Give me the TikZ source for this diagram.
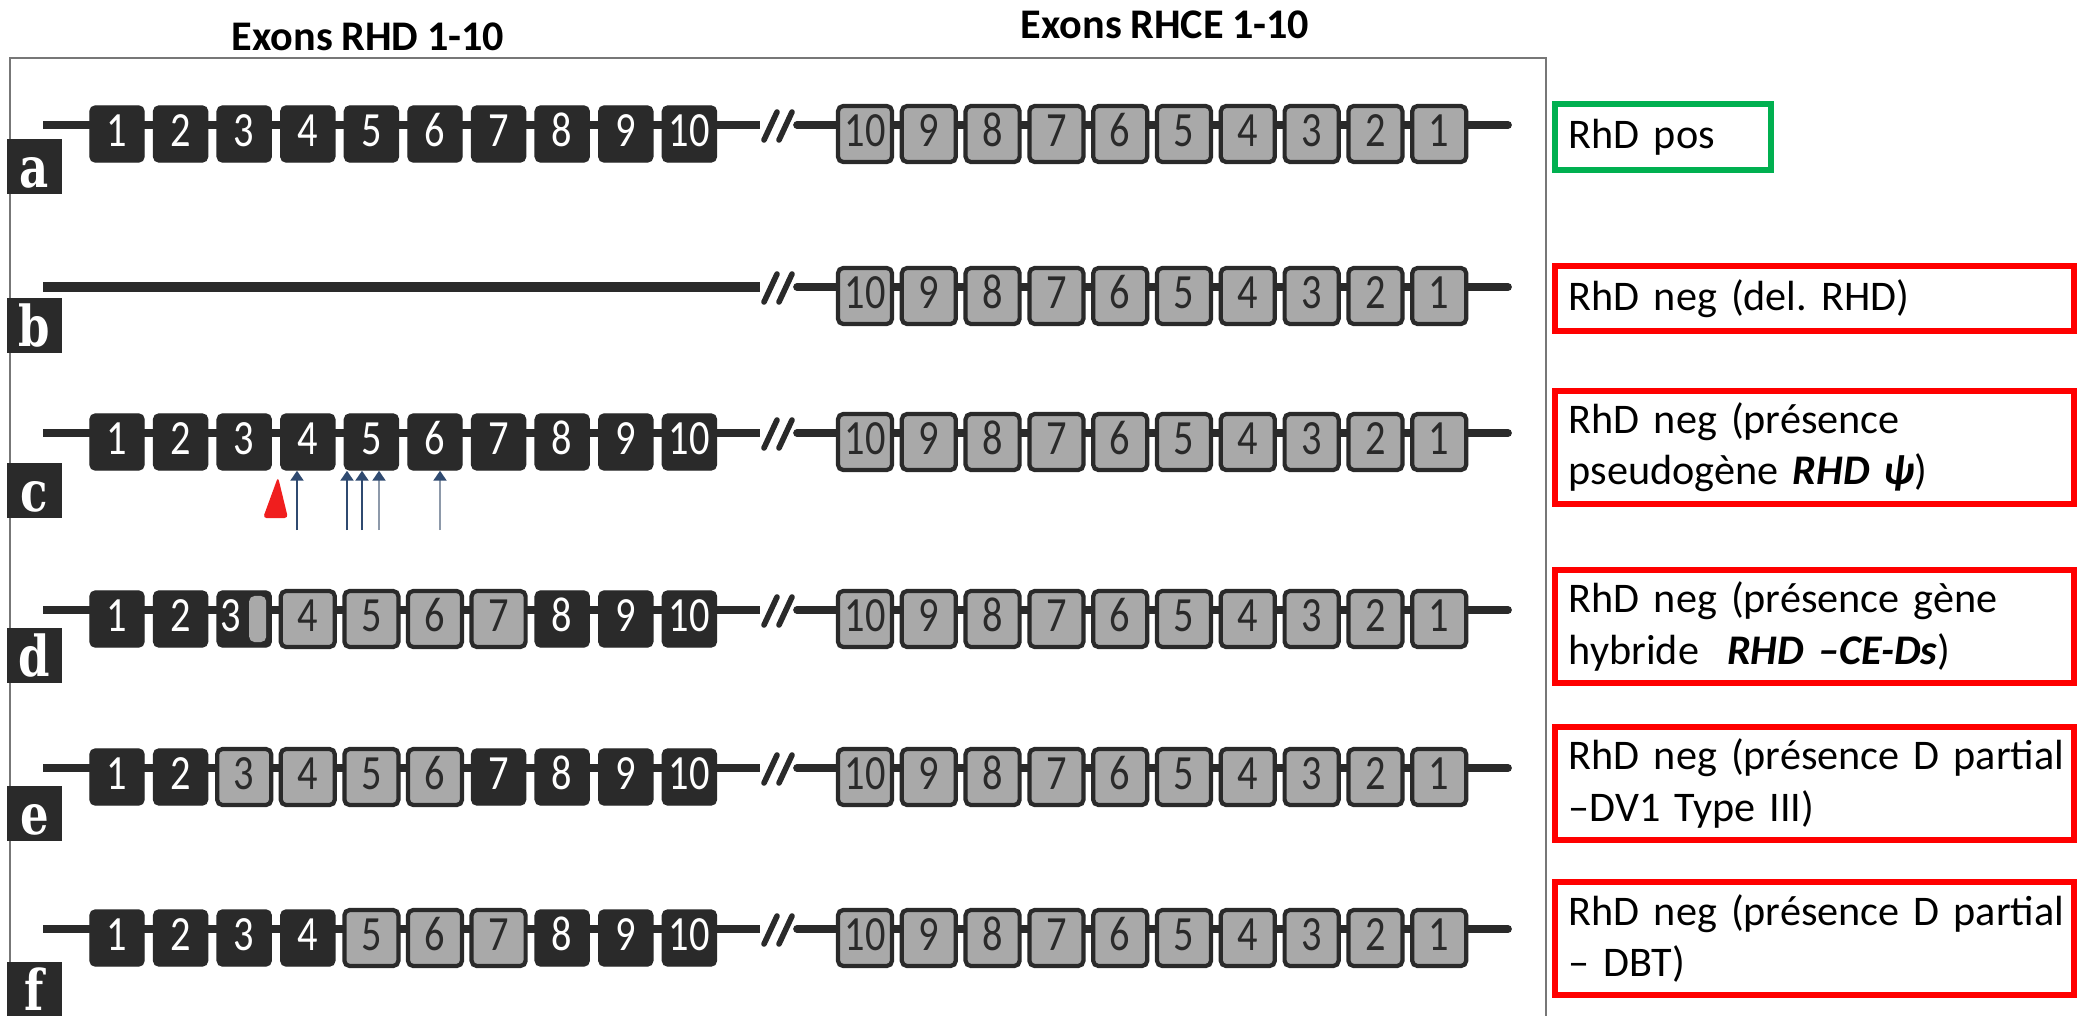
\documentclass[tikz,border=0pt]{standalone}
\usepackage{fontspec}
\setmainfont{Carlito}[WordSpace=0.9]
\newfontfamily\exfont[FakeStretch=0.82]{Carlito}
\newfontfamily\tagfont[FakeStretch=0.8]{DejaVu Serif}
\usetikzlibrary{arrows.meta,positioning,calc}
\frenchspacing
\hyphenpenalty=10000

\definecolor{exdark}{HTML}{2A2A2A}
\definecolor{exgrey}{HTML}{A9A9A9}
\definecolor{frameg}{HTML}{777777}
\definecolor{posgreen}{HTML}{00B050}
\definecolor{negred}{HTML}{FF0000}
\definecolor{mutblue}{HTML}{2F4A70}
\definecolor{mutgrey}{HTML}{8D99AA}
\definecolor{trired}{HTML}{F01E1E}

\begin{document}
\begin{tikzpicture}[x=0.01cm, y=-0.01cm,
  ex/.style={rounded corners=1.5pt, minimum width=0.54cm, minimum height=0.56cm,
             inner sep=0pt, text height=11.4pt, text depth=4.5pt,
             font=\exfont\fontsize{14}{14}\selectfont},
  dex/.style={ex, fill=exdark, draw=exdark, text=white},
  gex/.style={ex, fill=exgrey, draw=exdark, line width=1.2pt, text=exdark},
  hex/.style={dex, execute at end node=\hspace{0.26cm},
              path picture={\fill[exgrey]
                ([xshift=-0.22cm,yshift=-0.05cm]path picture bounding box.north east) rectangle
                ([xshift=-0.05cm,yshift=0.05cm]path picture bounding box.south east);}},
  tag/.style={fill=exdark, text=white, minimum width=0.55cm, minimum height=0.55cm,
              inner sep=0pt, text height=13.9pt, text depth=1.7pt,
              font=\tagfont\bfseries\fontsize{16}{16}\selectfont},
  gene/.style={exdark, line width=2.2pt},
  brk/.style={exdark, line width=1.6pt, line cap=round},
  res/.style={draw=negred, line width=1.6pt, anchor=north west, inner xsep=0.14cm,
              inner ysep=0pt, text width=4.91cm, align=left,
              font=\fontsize{12}{14.6}\selectfont},
  posres/.style={res, draw=posgreen, text width=1.88cm},
  hd/.style={font=\bfseries\fontsize{12}{14}\selectfont},
  mut/.style={-{Triangle[length=0.1cm, width=0.13cm, color=mutblue]}, line width=0.6pt}
]
\useasboundingbox (0,0) rectangle (2083,1015);

% frame and headings
\draw[frameg, line width=0.8pt] (10,1030) |- (1546,58) -- (1546,1030);
\node[hd] (tD) at (368,37) {Exons RHD 1-10};
\node[hd] (tC) at (1165,25) {Exons RHCE 1-10};

% gene lines, break marks, RHCE exons
\foreach \rw/\ly/\ty/\lw in {a/125/139/2.2pt, b/287/298/3pt, c/433/463/2.2pt,
                             d/610/628/2.2pt, e/768/786/2.2pt, f/929/962/2.2pt}{
  \coordinate (\rw-s) at (43,\ly);
  \coordinate (\rw-b1) at (760,\ly);
  \coordinate (\rw-b2) at (797,\ly);
  \coordinate (\rw-e) at (1508,\ly);
  \draw[gene, line width=\lw] (\rw-s) -- (\rw-b1);
  \draw[gene, line cap=round] (\rw-b2) -- (\rw-e);
  \draw[brk] ($(\rw-b1)+(4,15)$) -- ++(13,-28);
  \draw[brk] ($(\rw-b1)+(19,15)$) -- ++(13,-28);
  \foreach \n in {1,...,10}
    \node[gex] (\rw C\n) at ({865+63.8*(10-\n)},{\ly+9}) {\n};
  \node[tag] (\rw-tag) at (34.5,{\ty+27.5}) {\rw};
}

% RHD exons
\foreach \rw/\ly/\sty in {
    a/125/{dex,dex,dex,dex,dex,dex,dex,dex,dex,dex},
    c/433/{dex,dex,dex,dex,dex,dex,dex,dex,dex,dex},
    d/610/{dex,dex,hex,gex,gex,gex,gex,dex,dex,dex},
    e/768/{dex,dex,gex,gex,gex,gex,dex,dex,dex,dex},
    f/929/{dex,dex,dex,dex,gex,gex,gex,dex,dex,dex}}{
  \foreach \s [count=\i] in \sty
    \node[\s] (\rw D\i) at ({117+63.6*(\i-1)},{\ly+9}) {\i};
}

% mutations in c
\fill[trired, rounded corners=1pt] (278,477) -- (288,518) -- (263,518) -- cycle;
\foreach \x/\c [count=\k] in {297/mutblue, 347/mutblue, 362/mutblue, 379/mutgrey, 440/mutgrey}{
  \coordinate (m\k) at (\x,530);
  \draw[mut, draw=\c] (m\k) -- (m\k |- cD4.south);
}

% phenotypes
\node[posres, minimum height=0.66cm] (ra) at (1552,101) {RhD pos};
\node[res, minimum height=0.65cm] (rb) at (1552,263) {RhD neg (del. RHD)};
\node[res, minimum height=1.13cm] (rc) at (1552,388)
  {RhD neg (présence\\pseudogène \textbf{\textit{RHD ψ}})};
\node[res, minimum height=1.13cm] (rd) at (1552,567)
  {\mbox{RhD neg (présence gène}\\hybride\ \ \textbf{\textit{RHD –CE-Ds}})};
\node[res, minimum height=1.13cm] (re) at (1552,724)
  {\mbox{RhD neg (présence D partial}\\–DV1 Type III)};
\node[res, minimum height=1.13cm] (rf) at (1552,879)
  {\mbox{RhD neg (présence D partial}\\– DBT)};
\end{tikzpicture}
\end{document}
